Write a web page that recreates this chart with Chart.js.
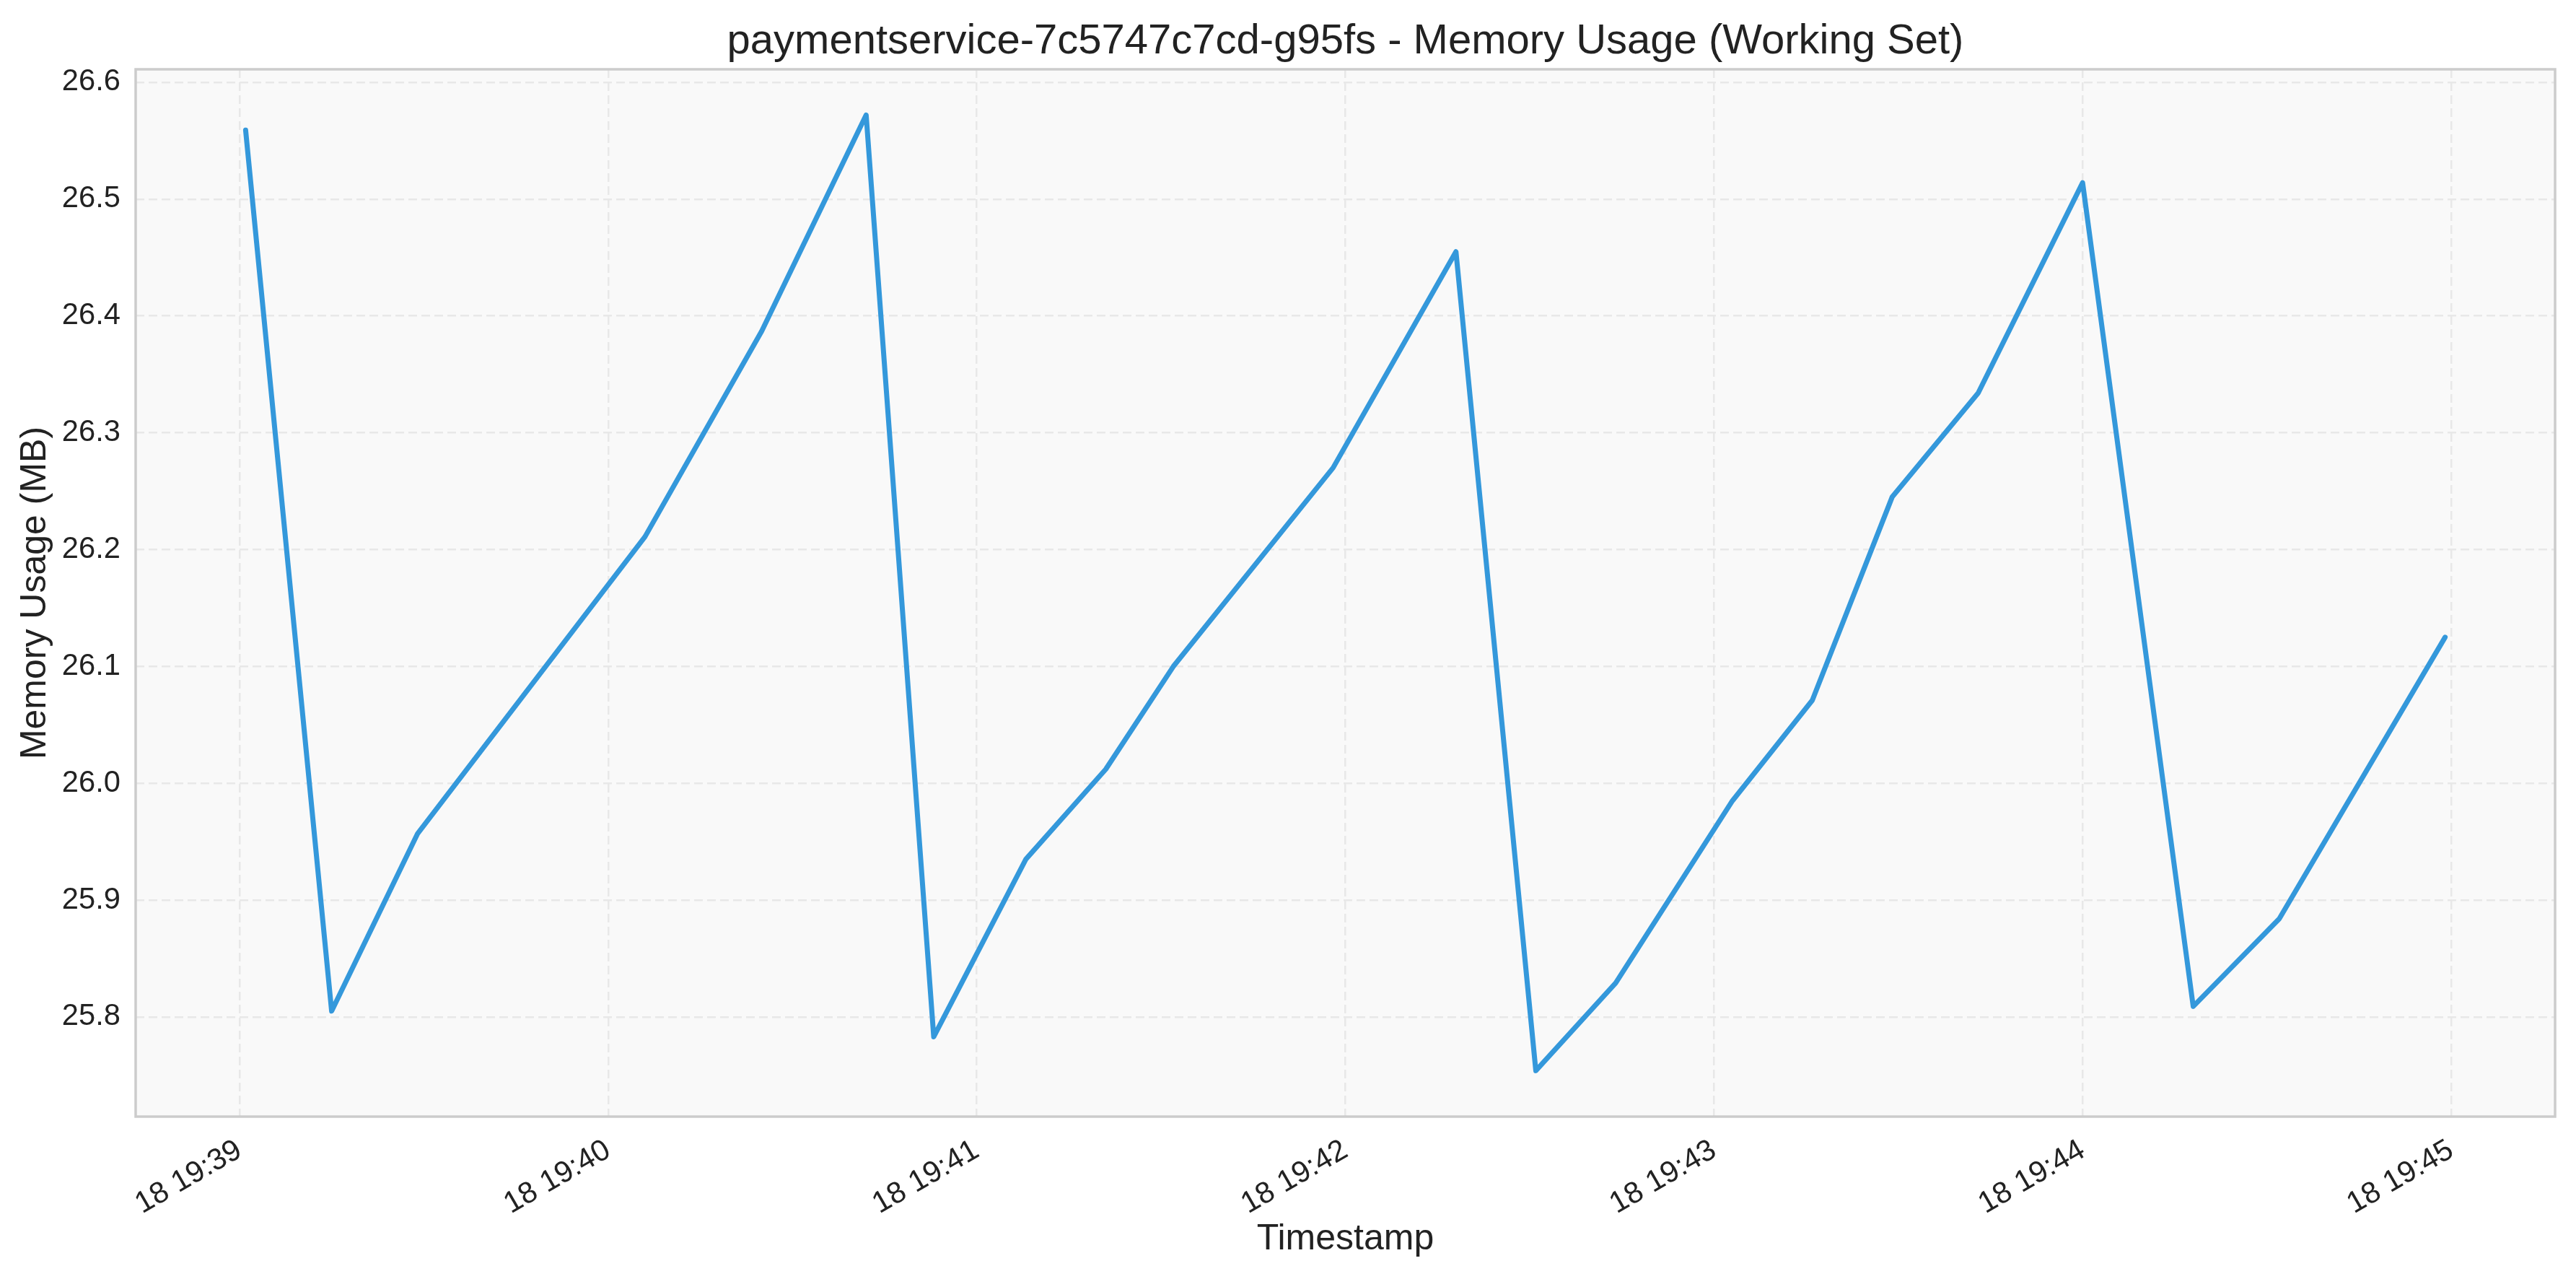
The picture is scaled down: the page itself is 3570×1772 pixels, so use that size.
<!DOCTYPE html>
<html>
<head>
<meta charset="utf-8">
<script src="https://cdn.jsdelivr.net/npm/chart.js@4.4.1/dist/chart.umd.min.js"></script>
<style>
  html, body { margin: 0; padding: 0; background: #ffffff; }
  #wrap { width: 3570px; height: 1772px; }
</style>
</head>
<body>
<div id="wrap"><canvas id="mem-chart" width="3570" height="1772"></canvas></div>
<script>
// 時刻（18日 19:xx:xx）
const timestamps = [
    '19:39:01', '19:39:15', '19:39:29', '19:40:06', '19:40:25', '19:40:42',
    '19:40:53', '19:41:08', '19:41:21', '19:41:32', '19:41:58', '19:42:18',
    '19:42:31', '19:42:44', '19:43:03', '19:43:16', '19:43:29', '19:43:43',
    '19:44:00', '19:44:18', '19:44:32', '19:44:59'
];
// メモリ使用量 (MB)
const memoryMB = [
    26.559, 25.805, 25.957, 26.211, 26.387, 26.572,
    25.783, 25.935, 26.012, 26.100, 26.270, 26.455,
    25.754, 25.829, 25.985, 26.071, 26.245, 26.334,
    26.514, 25.809, 25.884, 26.125
];
const xTickLabels = ['19:39', '19:40', '19:41', '19:42', '19:43', '19:44', '19:45'];
const yTickValues = [25.8, 25.9, 26.0, 26.1, 26.2, 26.3, 26.4, 26.5, 26.6];
const xRange = ['19:38:43.1', '19:45:16.9'];
const yRange = [25.7147, 26.6111];

const titleText = 'paymentservice-7c5747c7cd-g95fs - Memory Usage (Working Set)';
const FONT = "'Liberation Sans', Arial, sans-serif";

// "HH:MM(:SS)" を秒に変換
function toSec(s) {
    const p = s.split(':').map(Number);
    return p[0] * 3600 + p[1] * 60 + (p[2] || 0);
}
function fmtTick(sec) {
    const h = Math.floor(sec / 3600);
    const m = Math.round((sec - h * 3600) / 60);
    return '18 ' + h + ':' + String(m).padStart(2, '0');
}

const points = timestamps.map((t, i) => ({ x: toSec(t), y: memoryMB[i] }));

// 描画領域の背景・枠線・タイトル（タイトルは描画領域の中央に合わせる）
const areaPlugin = {
    id: 'areaBox',
    beforeDraw(chart) {
        const { ctx, chartArea: a } = chart;
        ctx.save();
        ctx.fillStyle = '#f9f9f9';
        ctx.fillRect(a.left, a.top, a.right - a.left, a.bottom - a.top);
        ctx.restore();
    },
    afterDatasetsDraw(chart) {
        const { ctx, chartArea: a } = chart;
        ctx.save();
        ctx.strokeStyle = '#cccccc';
        ctx.lineWidth = 3.5;
        ctx.strokeRect(a.left, a.top, a.right - a.left, a.bottom - a.top);
        ctx.restore();
    },
    afterDraw(chart) {
        const { ctx, chartArea: a } = chart;
        ctx.save();
        ctx.fillStyle = '#222222';
        ctx.font = '58px ' + FONT;
        ctx.textAlign = 'center';
        ctx.textBaseline = 'middle';
        ctx.fillText(titleText, (a.left + a.right) / 2, 58);
        ctx.restore();
    }
};

const gridStyle = {
    color: '#e8e8e8',
    lineWidth: 2.5,
    tickLength: 0,
    drawTicks: false
};

new Chart(document.getElementById('mem-chart').getContext('2d'), {
    type: 'line',
    data: {
        datasets: [{
            label: 'Memory Usage',
            data: points,
            borderColor: '#3498db',
            borderWidth: 7,
            pointRadius: 0,
            tension: 0,
            borderCapStyle: 'round',
            borderJoinStyle: 'round'
        }]
    },
    plugins: [areaPlugin],
    options: {
        responsive: false,
        animation: false,
        devicePixelRatio: 1,
        layout: { padding: { top: 96, right: 29, bottom: 0, left: 0 } },
        plugins: {
            legend: { display: false },
            tooltip: { enabled: false },
            title: { display: false }
        },
        scales: {
            x: {
                type: 'linear',
                min: toSec(xRange[0]),
                max: toSec(xRange[1]),
                afterBuildTicks: axis => {
                    axis.ticks = xTickLabels.map(t => ({ value: toSec(t) }));
                },
                afterFit: axis => { axis.height = 225; },
                grid: gridStyle,
                border: { display: false, dash: [12, 6] },
                ticks: {
                    autoSkip: false,
                    minRotation: 30,
                    maxRotation: 30,
                    padding: 22,
                    color: '#222222',
                    font: { family: FONT, size: 41.7 },
                    callback: v => fmtTick(v)
                },
                title: {
                    display: true,
                    text: 'Timestamp',
                    color: '#222222',
                    font: { family: FONT, size: 50 },
                    padding: { top: 0, bottom: 25 }
                }
            },
            y: {
                type: 'linear',
                min: yRange[0],
                max: yRange[1],
                afterBuildTicks: axis => {
                    axis.ticks = yTickValues.map(v => ({ value: v }));
                },
                afterFit: axis => { axis.width = 188; },
                grid: gridStyle,
                border: { display: false, dash: [12, 6] },
                ticks: {
                    padding: 21,
                    color: '#222222',
                    font: { family: FONT, size: 41.7 },
                    callback: v => Number(v).toFixed(1)
                },
                title: {
                    display: true,
                    text: 'Memory Usage (MB)',
                    color: '#222222',
                    font: { family: FONT, size: 50 },
                    padding: { top: 19, bottom: 0 }
                }
            }
        }
    }
});
</script>
</body>
</html>
